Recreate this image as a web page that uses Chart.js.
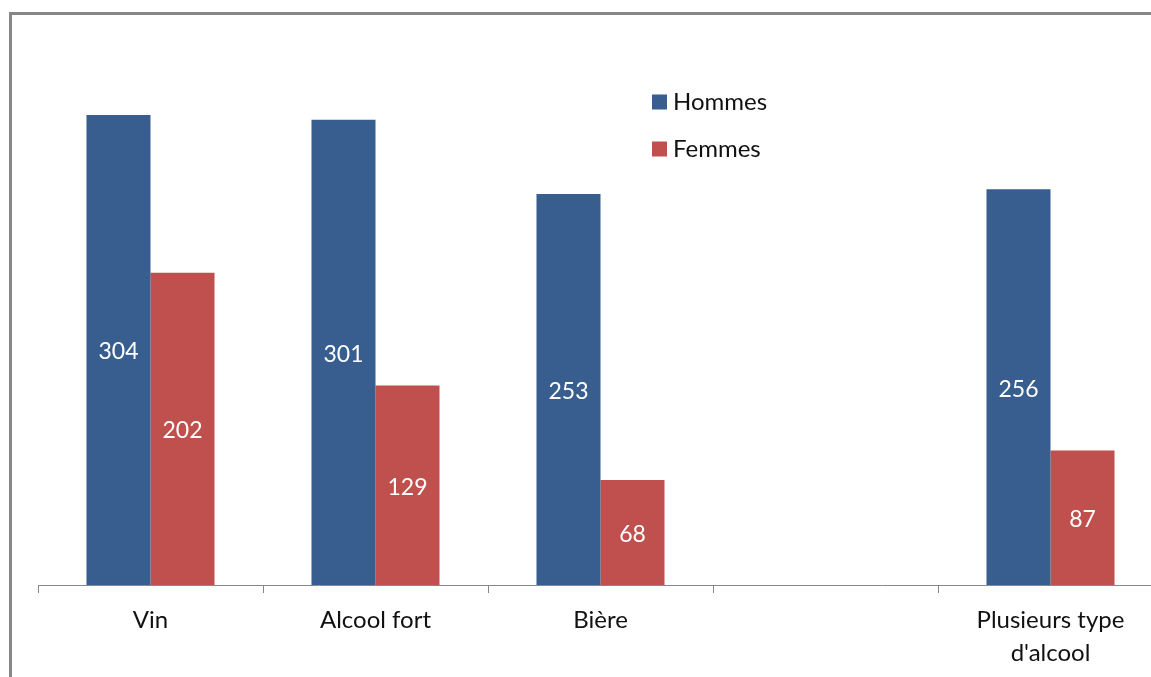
<!DOCTYPE html>
<html>
<head>
<meta charset="utf-8">
<script src="https://cdn.jsdelivr.net/npm/chart.js@4/dist/chart.umd.min.js"></script>
<style>
  html, body { margin: 0; padding: 0; background: #ffffff; overflow: hidden; width: 1151px; height: 677px; }
  #wrap { position: absolute; left: 0; top: 0; width: 1151px; height: 677px; overflow: hidden; }
  #frame { position: absolute; left: 9px; top: 12px; width: 1200px; height: 700px; border-left: 3px solid #878787; border-top: 3px solid #878787; box-sizing: border-box; }
  canvas { position: absolute; left: 0; top: 0; }
</style>
</head>
<body>
<div id="wrap">
  <div id="frame"></div>
  <canvas id="c" width="1175" height="677"></canvas>
</div>
<script>
const categories = ["Vin", "Alcool fort", "Bière", "", ["Plusieurs type", "d'alcool"]];
const seriesNames = ["Hommes", "Femmes"];
const hommes = [304, 301, 253, null, 256];
const femmes = [202, 129, 68, null, 87];
const colors = ["#385E8F", "#BF504D"];
const FONT = "Lato, 'Open Sans', sans-serif";

const dataLabels = {
  id: 'dataLabels',
  afterDatasetsDraw(chart) {
    const ctx = chart.ctx;
    ctx.save();
    ctx.fillStyle = '#ffffff';
    ctx.font = '23px ' + FONT;
    ctx.textAlign = 'center';
    ctx.textBaseline = 'middle';
    chart.data.datasets.forEach((ds, di) => {
      const meta = chart.getDatasetMeta(di);
      meta.data.forEach((bar, i) => {
        const v = ds.data[i];
        if (v === null || v === undefined) return;
        const p = bar.getProps(['x', 'y', 'base'], true);
        ctx.fillText(String(v), p.x, (p.y + p.base) / 2 + 2);
      });
    });
    ctx.restore();
  }
};

const customLegend = {
  id: 'customLegend',
  afterDraw(chart) {
    const ctx = chart.ctx;
    ctx.save();
    ctx.font = '24px ' + FONT;
    ctx.textBaseline = 'middle';
    ctx.textAlign = 'left';
    const x0 = 652, y0 = 102, gap = 47, sq = 15;
    chart.data.datasets.forEach((ds, i) => {
      const y = y0 + i * gap;
      ctx.fillStyle = ds.backgroundColor;
      ctx.fillRect(x0, y - sq / 2, sq, sq);
      ctx.fillStyle = '#111111';
      ctx.fillText(ds.label, x0 + 21, y);
    });
    ctx.restore();
  }
};

new Chart(document.getElementById('c'), {
  type: 'bar',
  data: {
    labels: categories,
    datasets: [
      { label: seriesNames[0], data: hommes, backgroundColor: colors[0], categoryPercentage: 0.569, barPercentage: 1.0 },
      { label: seriesNames[1], data: femmes, backgroundColor: colors[1], categoryPercentage: 0.569, barPercentage: 1.0 }
    ]
  },
  options: {
    responsive: false,
    animation: false,
    layout: { padding: { left: 38, right: 12, top: 44, bottom: 0 } },
    plugins: { legend: { display: false }, tooltip: { enabled: false } },
    scales: {
      x: {
        afterFit(scale) { scale.height = 92; },
        grid: { display: true, drawOnChartArea: false, offset: true, tickLength: 8, color: '#888888', lineWidth: 1 },
        border: { display: true, color: '#888888', width: 1 },
        ticks: { color: '#111111', font: { family: FONT, size: 24, lineHeight: 1.4 }, padding: 10, maxRotation: 0, autoSkip: false }
      },
      y: {
        display: false,
        min: 0,
        max: 350
      }
    }
  },
  plugins: [dataLabels, customLegend]
});
</script>
</body>
</html>
